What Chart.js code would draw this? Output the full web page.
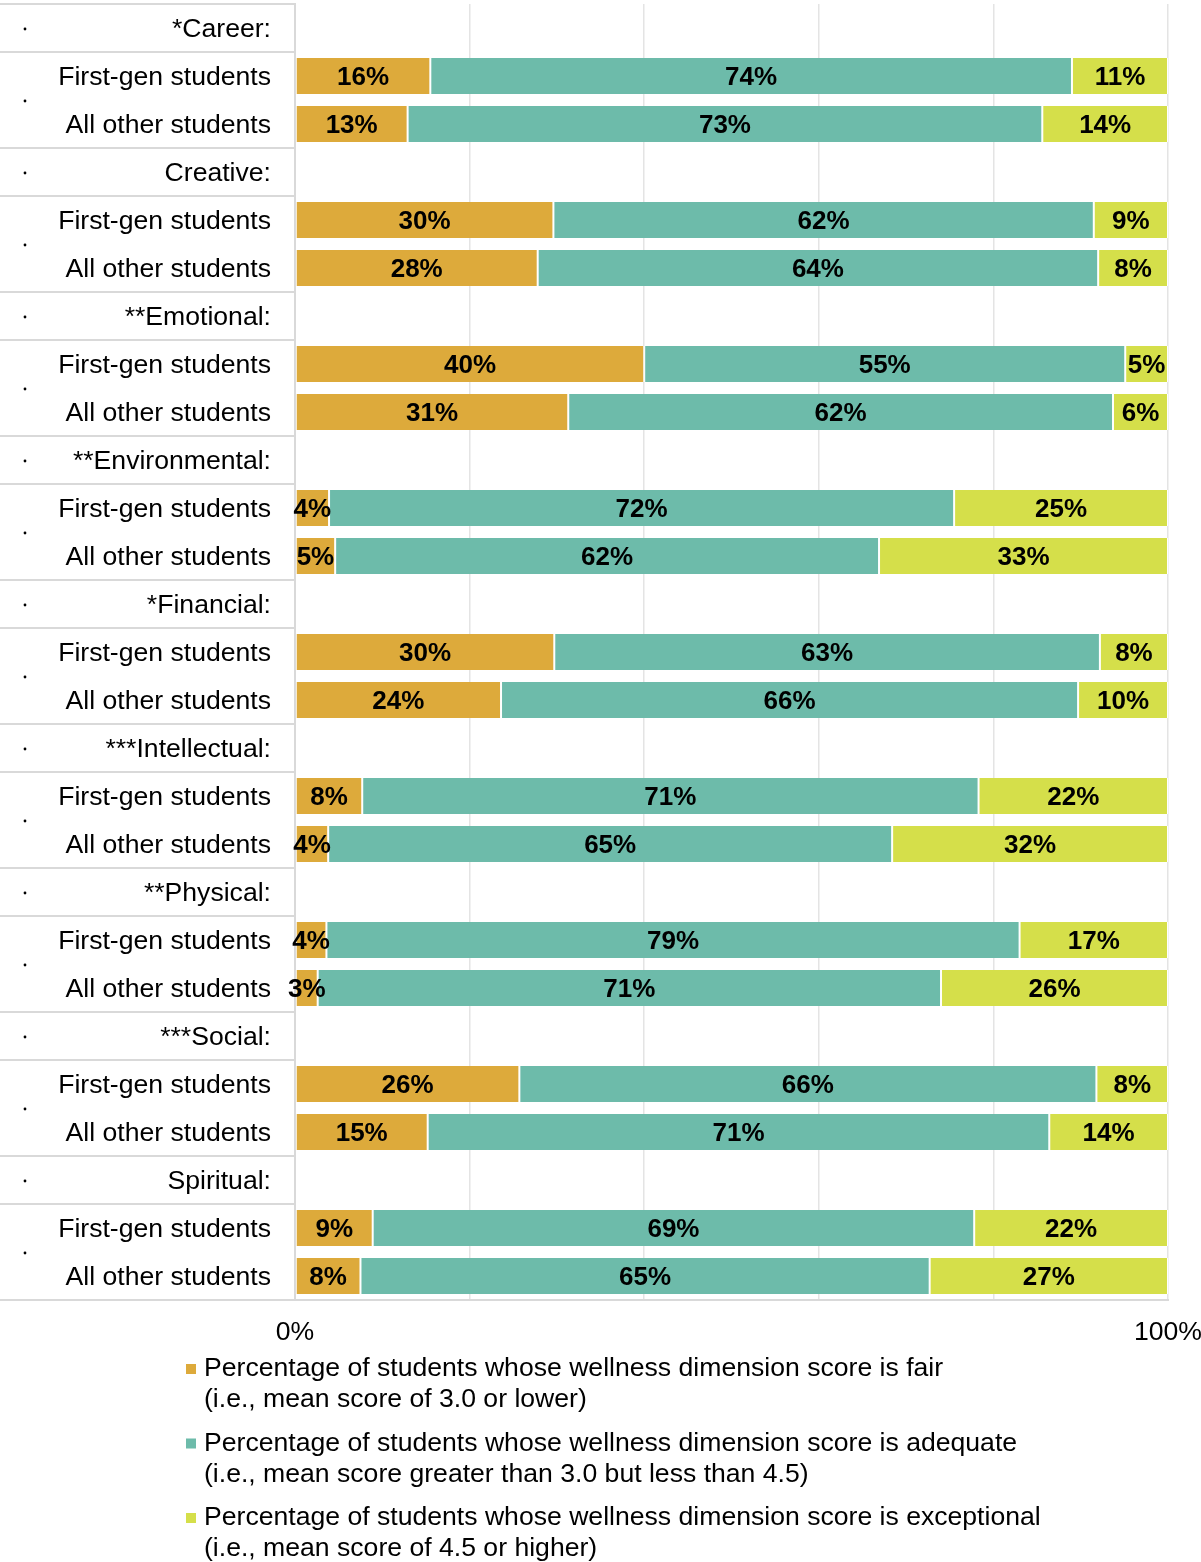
<!DOCTYPE html>
<html>
<head>
<meta charset="utf-8">
<script src="https://cdn.jsdelivr.net/npm/chart.js@4.4.1/dist/chart.umd.min.js"></script>
<style>
  html, body { margin: 0; padding: 0; background: #fff; }
</style>
</head>
<body>
<canvas id="wellnessChart" width="1201" height="1562"></canvas>
<script>
// wellness dimensions (header rows) and the two student groups under each
const dimensions = ["*Career:", "Creative:", "**Emotional:", "**Environmental:", "*Financial:",
  "***Intellectual:", "**Physical:", "***Social:", "Spiritual:"];
const groups = ["First-gen students", "All other students"];

// values per dimension, same order as dimensions
const fairFirstGen = [15.5, 29.6, 40.0, 3.9, 29.7, 7.7, 3.6, 25.7, 8.9];
const fairOther = [12.9, 27.8, 31.3, 4.6, 23.6, 3.8, 2.6, 15.2, 7.5];
const adequateFirstGen = [73.5, 61.9, 55.1, 71.6, 62.5, 70.6, 79.4, 66.1, 68.9];
const adequateOther = [72.7, 64.2, 62.4, 62.3, 66.1, 64.6, 71.4, 71.2, 65.2];
const exceptionalFirstGen = [11.0, 8.5, 4.9, 24.5, 7.8, 21.7, 17.0, 8.2, 22.2];
const exceptionalOther = [14.4, 8.0, 6.3, 33.1, 10.3, 31.6, 26.0, 13.6, 27.3];

const xTicks = [0, 100];

const legendLines = [
  ["Percentage of students whose wellness dimension score is fair", "(i.e., mean score of 3.0 or lower)"],
  ["Percentage of students whose wellness dimension score is adequate", "(i.e., mean score greater than 3.0 but less than 4.5)"],
  ["Percentage of students whose wellness dimension score is exceptional", "(i.e., mean score of 4.5 or higher)"]
];
const colors = ["#DDAA3B", "#6DBBAA", "#D5DF4A"];

// rows: header, first-gen, all other  (x9)
const labels = [];
dimensions.forEach(d => { labels.push(d, groups[0], groups[1]); });

function rows(first, other) {
  const out = [];
  first.forEach((v, i) => { out.push(null, v, other[i]); });
  return out;
}

const FONT = "'Liberation Sans', Arial, sans-serif";

const tablePlugin = {
  id: "tablePlugin",
  beforeDatasetsDraw(chart) {
    const { ctx, chartArea } = chart;
    const yScale = chart.scales.y;
    const rowH = (chartArea.bottom - chartArea.top) / labels.length;
    ctx.save();
    ctx.strokeStyle = "#d9d9d9";
    ctx.lineWidth = 2;
    for (let d = 0; d < dimensions.length; d++) {
      const c = yScale.getPixelForValue(d * 3);
      [c - rowH / 2, c + rowH / 2].forEach(y => {
        ctx.beginPath();
        ctx.moveTo(0, y);
        ctx.lineTo(chartArea.left - 1, y);
        ctx.stroke();
      });
    }
    // bottom line across whole table
    ctx.beginPath();
    ctx.moveTo(0, chartArea.bottom);
    ctx.lineTo(chartArea.right + 1, chartArea.bottom);
    ctx.stroke();

    // small dots in the first column
    ctx.fillStyle = "#000";
    for (let d = 0; d < dimensions.length; d++) {
      const yh = yScale.getPixelForValue(d * 3);
      const yg = (yScale.getPixelForValue(d * 3 + 1) + yScale.getPixelForValue(d * 3 + 2)) / 2;
      [yh, yg].forEach(y => {
        ctx.beginPath();
        ctx.arc(25, y + 1, 1.4, 0, Math.PI * 2);
        ctx.fill();
      });
    }
    ctx.restore();
  },
  afterDatasetsDraw(chart) {
    const { ctx } = chart;
    ctx.save();
    ctx.font = "bold 26px " + FONT;
    ctx.fillStyle = "#000";
    ctx.textAlign = "center";
    ctx.textBaseline = "middle";
    chart.data.datasets.forEach((ds, i) => {
      chart.getDatasetMeta(i).data.forEach((bar, j) => {
        const v = ds.data[j];
        if (v == null) return;
        ctx.fillText(Math.round(v) + "%", (bar.x + bar.base) / 2, bar.y + 2);
      });
    });
    ctx.restore();
  },
  afterDraw(chart) {
    const { ctx } = chart;
    ctx.save();
    ctx.font = "26.6px " + FONT;
    ctx.textBaseline = "middle";
    ctx.textAlign = "left";
    legendLines.forEach((lines, i) => {
      const y0 = 1369 + i * 74.5;
      ctx.fillStyle = colors[i];
      ctx.fillRect(186, y0 - 5, 10, 10);
      ctx.fillStyle = "#000";
      lines.forEach((t, k) => ctx.fillText(t, 204, y0 + k * 31));
    });
    ctx.restore();
  }
};

new Chart(document.getElementById("wellnessChart"), {
  type: "bar",
  data: {
    labels: labels,
    datasets: [
      { label: legendLines[0].join(" "), data: rows(fairFirstGen, fairOther), backgroundColor: colors[0] },
      { label: legendLines[1].join(" "), data: rows(adequateFirstGen, adequateOther), backgroundColor: colors[1] },
      { label: legendLines[2].join(" "), data: rows(exceptionalFirstGen, exceptionalOther), backgroundColor: colors[2] }
    ]
  },
  options: {
    indexAxis: "y",
    responsive: false,
    animation: false,
    datasets: {
      bar: {
        barPercentage: 0.75,
        categoryPercentage: 1,
        borderColor: "#fff",
        borderWidth: { left: 1, right: 1, top: 0, bottom: 0 },
        borderSkipped: false
      }
    },
    layout: { padding: { top: 4, right: 33, bottom: 212, left: 0 } },
    plugins: {
      legend: { display: false },
      tooltip: { enabled: false }
    },
    scales: {
      x: {
        stacked: true,
        min: 0,
        max: 100,
        ticks: {
          stepSize: 20,
          autoSkip: false,
          maxRotation: 0,
          padding: 17,
          color: "#000",
          font: { family: FONT, size: 26.6 },
          callback: v => xTicks.includes(v) ? v + "%" : ""
        },
        grid: { color: "#e4e4e4", lineWidth: 1.5, drawTicks: false },
        border: { display: false },
        afterFit: s => {
          s.height = 50;
          s.paddingLeft = 0; s.paddingRight = 0;
        }
      },
      y: {
        stacked: true,
        ticks: {
          autoSkip: false,
          padding: 24,
          labelOffset: 2,
          color: "#000",
          font: { family: FONT, size: 26.6 }
        },
        grid: { display: false, drawTicks: false },
        border: { display: true, color: "#d9d9d9", width: 2 },
        afterFit: s => {
          s.width = 295;
          s.paddingTop = 0; s.paddingBottom = 0;
        }
      }
    }
  },
  plugins: [tablePlugin]
});
</script>
</body>
</html>
